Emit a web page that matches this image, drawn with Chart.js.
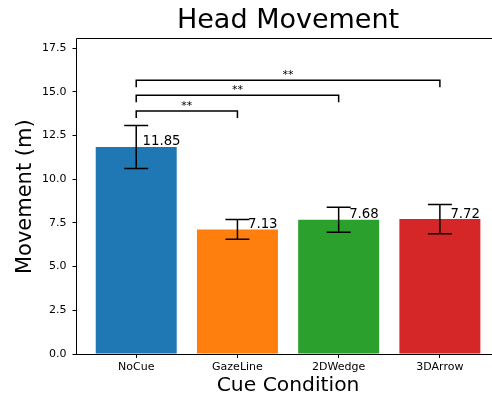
<!DOCTYPE html>
<html>
<head>
<meta charset="utf-8">
<script src="https://cdn.jsdelivr.net/npm/chart.js@4.4.0/dist/chart.umd.min.js"></script>
<style>
  html, body { margin: 0; padding: 0; background: #fff; overflow: hidden; width: 492px; height: 398px; }
  #wrap { width: 492px; height: 398px; overflow: hidden; position: relative; }
  canvas { display: block; position: absolute; left: 0; top: 0; }
</style>
</head>
<body>
<div id="wrap"><canvas id="c" width="502" height="398" style="width:502px;height:398px"></canvas></div>
<script>
// ---- data ----
const categories = ['NoCue', 'GazeLine', '2DWedge', '3DArrow'];
const means = [11.85, 7.13, 7.68, 7.72];
const errors = [1.23, 0.57, 0.71, 0.84];
const barColors = ['#1f77b4', '#ff7f0e', '#2ca02c', '#d62728'];
const yTicks = [0, 2.5, 5, 7.5, 10, 12.5, 15, 17.5];
// significance comparisons: [from index, to index]
const bracketPairs = [[0, 1], [0, 2], [0, 3]];
const bracketLevels = [13.9, 14.8, 15.66];
const bracketLabels = ['**', '**', '**'];
const bracketDrop = 0.4;

const FONT = '"DejaVu Sans", sans-serif';

const overlay = {
  id: 'overlay',
  afterDatasetsDraw(chart) {
    const ctx = chart.ctx;
    const xs = chart.scales.x, ys = chart.scales.y;
    const ca = chart.chartArea;
    ctx.save();
    // error bars
    ctx.strokeStyle = '#000';
    ctx.lineWidth = 1.5;
    means.forEach((m, i) => {
      const x = xs.getPixelForValue(i);
      const yt = ys.getPixelForValue(m + errors[i]);
      const yb = ys.getPixelForValue(m - errors[i]);
      ctx.beginPath();
      ctx.moveTo(x, yt); ctx.lineTo(x, yb);
      ctx.moveTo(x - 12, yt); ctx.lineTo(x + 12, yt);
      ctx.moveTo(x - 12, yb); ctx.lineTo(x + 12, yb);
      ctx.stroke();
    });
    // value labels
    ctx.fillStyle = '#000';
    ctx.font = '13.3px ' + FONT;
    ctx.textAlign = 'center';
    ctx.textBaseline = 'alphabetic';
    means.forEach((m, i) => {
      ctx.fillText(m.toFixed(2), xs.getPixelForValue(i + 0.25), ys.getPixelForValue(m) - 1.5);
    });
    // brackets
    ctx.lineWidth = 1.5;
    bracketPairs.forEach((p, k) => {
      const x1 = xs.getPixelForValue(p[0]);
      const x2 = xs.getPixelForValue(p[1]);
      const y = ys.getPixelForValue(bracketLevels[k]);
      const yd = ys.getPixelForValue(bracketLevels[k] - bracketDrop);
      ctx.beginPath();
      ctx.moveTo(x1, yd); ctx.lineTo(x1, y); ctx.lineTo(x2, y); ctx.lineTo(x2, yd);
      ctx.stroke();
      ctx.font = '11px ' + FONT;
      ctx.fillText(bracketLabels[k], (x1 + x2) / 2, y - 2.5);
    });
    // spines: top, left, bottom (right spine lies beyond the visible page)
    ctx.lineWidth = 1;
    ctx.strokeStyle = '#000';
    const L = Math.round(ca.left) - 0.5, T = Math.round(ca.top) - 0.5;
    const R = ca.right, B = Math.round(ca.bottom) + 0.5;
    ctx.beginPath();
    ctx.moveTo(L, T); ctx.lineTo(R, T);
    ctx.moveTo(L, T); ctx.lineTo(L, B); ctx.lineTo(R, B);
    ctx.stroke();
    ctx.restore();
  }
};

new Chart(document.getElementById('c'), {
  type: 'bar',
  data: {
    datasets: [{
      data: categories.map((c, i) => ({ x: i, y: means[i] })),
      backgroundColor: barColors,
      borderWidth: 0,
      barPercentage: 0.8,
      categoryPercentage: 1.0
    }]
  },
  options: {
    responsive: false,
    animation: false,
    devicePixelRatio: 1,
    layout: { padding: { left: 0, right: 2.4, top: 0, bottom: 0 } },
    plugins: {
      legend: { display: false },
      tooltip: { enabled: false },
      title: {
        display: true,
        text: 'Head Movement',
        fullSize: false,
        color: '#000',
        font: { family: FONT, size: 27, weight: 'normal' },
        padding: { top: 4.5, bottom: 2.5 }
      }
    },
    scales: {
      x: {
        type: 'linear',
        min: -0.59,
        max: 3.59,
        offset: false,
        afterBuildTicks: (s) => { s.ticks = categories.map((c, i) => ({ value: i })); },
        afterFit: (s) => { s.height = 44; },
        ticks: {
          autoSkip: false,
          maxRotation: 0,
          padding: 3,
          color: '#000',
          font: { family: FONT, size: 11 },
          callback: (v) => categories[v]
        },
        grid: { display: true, drawOnChartArea: false, drawTicks: true, tickLength: 4, color: '#000', offset: false },
        border: { display: false },
        title: {
          display: true,
          text: 'Cue Condition',
          color: '#000',
          font: { family: FONT, size: 20.3 },
          padding: { top: 0, bottom: 0 }
        }
      },
      y: {
        min: 0,
        max: 18,
        afterBuildTicks: (s) => { s.ticks = yTicks.map(v => ({ value: v })); },
        afterFit: (s) => { s.width = 76.5; },
        ticks: {
          padding: 6,
          color: '#000',
          font: { family: FONT, size: 11 },
          callback: (v) => Number(v).toFixed(1)
        },
        grid: { display: true, drawOnChartArea: false, drawTicks: true, tickLength: 4, color: '#000' },
        border: { display: false },
        title: {
          display: true,
          text: 'Movement (m)',
          color: '#000',
          font: { family: FONT, size: 21 },
          padding: { top: 13, bottom: 0 }
        }
      }
    }
  },
  plugins: [overlay]
});
</script>
</body>
</html>
